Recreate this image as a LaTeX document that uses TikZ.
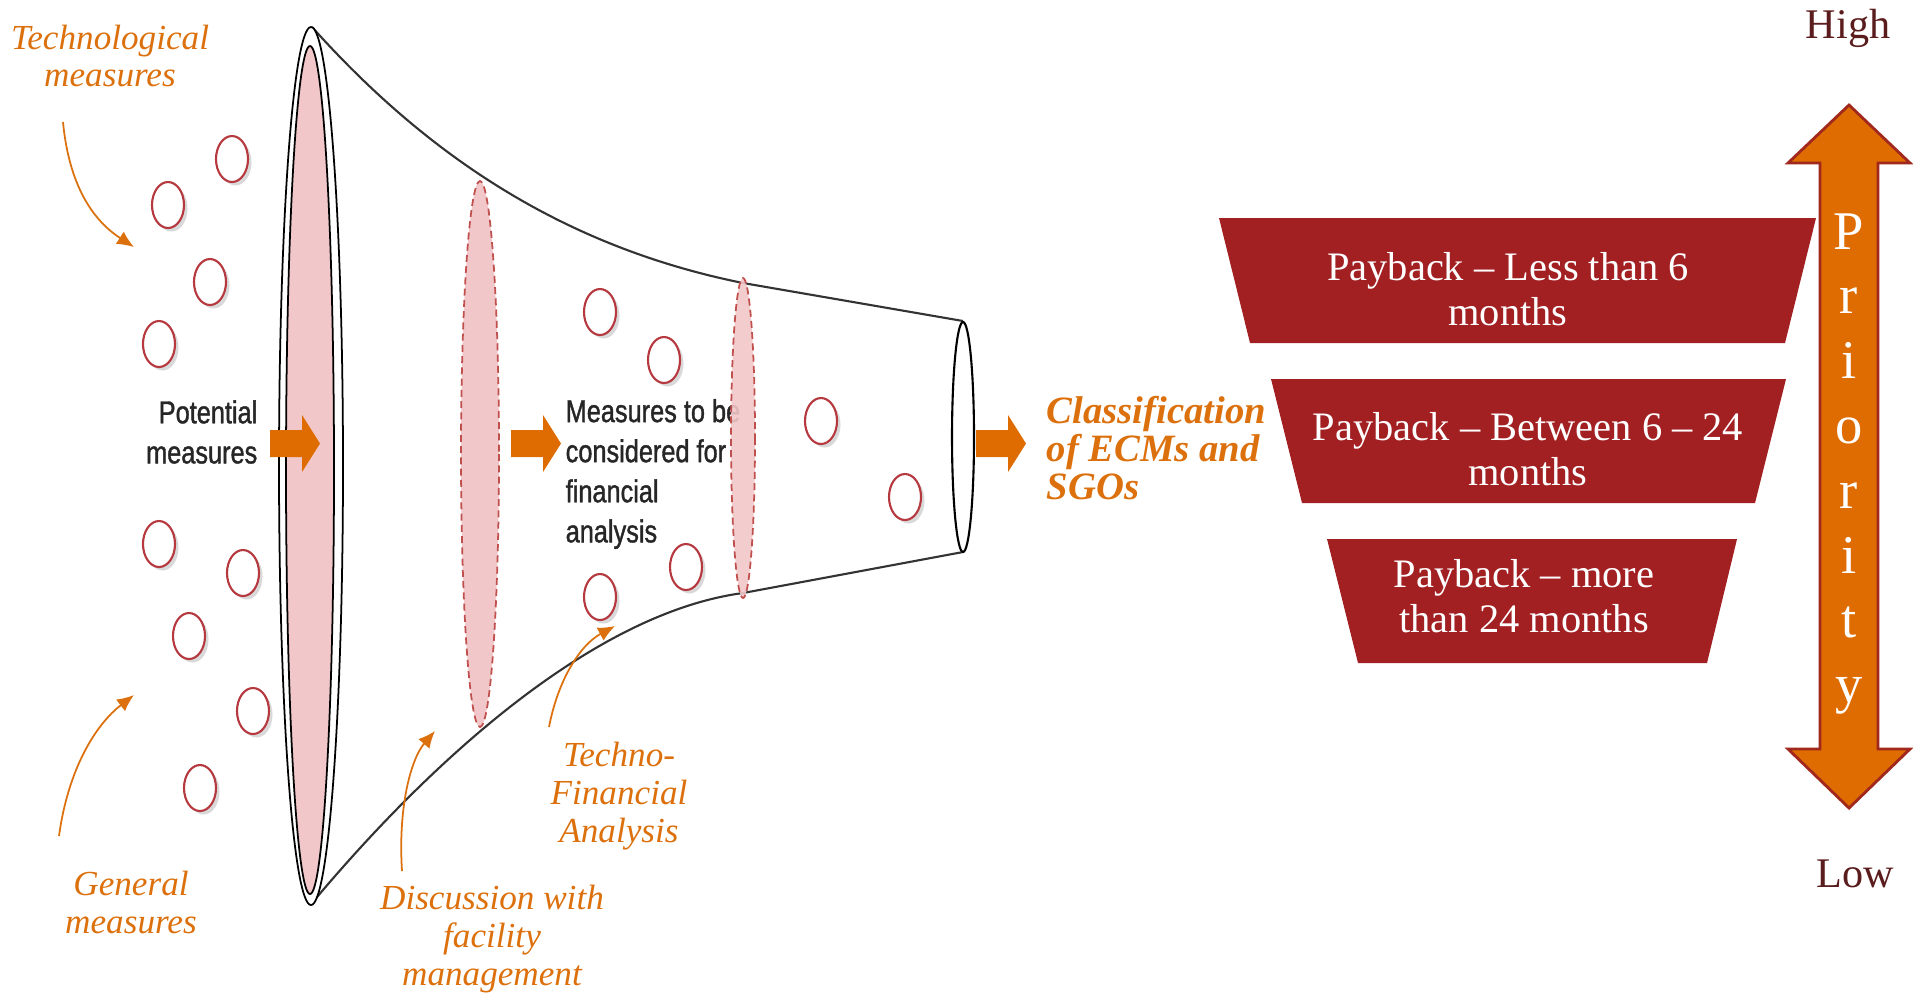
\documentclass[tikz,border=0pt]{standalone}
\usepackage{fontspec}
\setmainfont{Liberation Serif}
\newfontfamily\narrowsans[FakeStretch=0.8,FakeBold=1.2]{Liberation Sans}
\usetikzlibrary{arrows.meta,shadows}

\definecolor{lblorange}{HTML}{DC700C}
\definecolor{blockorange}{HTML}{DF6C00}
\definecolor{funnelpink}{HTML}{F2C7C9}
\definecolor{dashred}{HTML}{C0504D}
\definecolor{dotred}{HTML}{B5393F}
\definecolor{boxred}{HTML}{A21F22}
\definecolor{prioedge}{HTML}{A0281C}
\definecolor{lowhigh}{HTML}{5A1C1C}
\definecolor{darktext}{HTML}{262626}

\tikzset{
	orangelbl/.style={text=lblorange, inner sep=0pt, align=center,
		font=\fontsize{10}{10.8}\selectfont\itshape},
	graytext/.style={text=darktext, inner sep=0pt,
		font=\fontsize{9}{11.4}\selectfont\narrowsans},
	paytext/.style={text=white, inner sep=0pt, align=center,
		font=\fontsize{11.5}{12.8}\selectfont},
	priolbl/.style={text=white, inner sep=0pt, font=\fontsize{15.5}{15.5}\selectfont},
	prioend/.style={text=lowhigh, inner sep=0pt, font=\fontsize{12}{12}\selectfont},
	ecmdot/.style={draw=dotred, line width=0.6pt, fill=white,
		drop shadow={shadow xshift=1pt, shadow yshift=-1pt, opacity=0.3}},
	stagering/.style={draw=dashred, fill=funnelpink, line width=0.5pt,
		dash pattern=on 2pt off 1.2pt},
	pointer/.style={draw=lblorange, line width=0.5pt, -{Latex[length=4.8pt,width=4.2pt]}}
}

\begin{document}
\begin{tikzpicture}[x=0.01cm, y=-0.01cm]
	\useasboundingbox (0,0) rectangle (1913,993);

	% funnel
	\draw[line width=0.6pt, black!80] (312,27) .. controls (440,170) and (580,250) .. (743,283) -- (963,321);
	\draw[line width=0.6pt, black!80] (312,903) .. controls (440,750) and (600,612) .. (743,593) -- (963,552);

	\draw[fill=white, line width=0.5pt] (311,466) ellipse [x radius=32, y radius=439];
	\draw[fill=funnelpink, line width=0.5pt] (310,470) ellipse [x radius=24, y radius=424];

	\draw[stagering] (480,454) ellipse [x radius=19, y radius=273];
	\draw[line width=0.6pt] (963,437) ellipse [x radius=11, y radius=115];

	\foreach \x / \y in {
	232/159, 168/205, 210/282, 159/344,
	159/544, 243/573, 189/636, 253/711, 200/788,
	600/312, 664/360, 821/421, 905/497, 686/567, 600/597}
	{
		\draw[ecmdot] (\x,\y) ellipse [x radius=16, y radius=23];
	};

	\node[graytext, align=right, anchor=east] (potential) at (258,432) {Potential\\measures};
	\node[graytext, align=left, anchor=west] (tobe) at (565,474) {Measures to be\\considered for\\financial\\analysis};

	\draw[stagering, fill opacity=0.9] (743,438) ellipse [x radius=12, y radius=160];

	\foreach \x in {270, 511, 976}
	{
		\fill[blockorange] (\x,430) -- (\x+32,430) -- (\x+32,415) -- (\x+50,443.5)
			-- (\x+32,472) -- (\x+32,457) -- (\x,457) -- cycle;
	};

	% labels round the funnel
	\node[orangelbl] (techlbl) at (110,56) {Technological\\measures};
	\node[orangelbl] (genlbl) at (131,902) {General\\measures};
	\node[orangelbl] (disclbl) at (492,939) {Discussion with\\facility\\management};
	\node[orangelbl] (finlbl) at (619,796) {Techno-\\Financial\\Analysis};
	\node[orangelbl, align=left, anchor=west, font=\fontsize{11}{10.8}\selectfont\bfseries\itshape]
		(classlbl) at (1046,448) {Classification\\of ECMs and\\SGOs};

	\coordinate (techfrom) at (63,122);
	\coordinate (techto) at (134,247);
	\coordinate (genfrom) at (59,836);
	\coordinate (gento) at (134,695);
	\coordinate (discfrom) at (402,871);
	\coordinate (discto) at (435,731);
	\coordinate (finfrom) at (549,727);
	\coordinate (finto) at (615,626);

	\draw[pointer] (techfrom) .. controls (70,195) and (100,225) .. (techto);
	\draw[pointer] (genfrom) .. controls (68,770) and (95,725) .. (gento);
	\draw[pointer] (discfrom) .. controls (398,810) and (410,760) .. (discto);
	\draw[pointer] (finfrom) .. controls (558,680) and (580,645) .. (finto);

	% payback classes
	\fill[boxred] (1219,218) -- (1816,218) -- (1785,343) -- (1250,343) -- cycle;
	\fill[boxred] (1271,379) -- (1786,379) -- (1755,503) -- (1302,503) -- cycle;
	\fill[boxred] (1327,539) -- (1737,539) -- (1707,663) -- (1358,663) -- cycle;

	\node[paytext] (pay1) at (1508,289) {Payback -- Less than 6\\months};
	\node[paytext] (pay2) at (1528,449) {Payback -- Between 6 -- 24\\months};
	\node[paytext] (pay3) at (1524,596) {Payback -- more\\than 24 months};

	% priority
	\draw[fill=blockorange, draw=prioedge, line width=0.8pt]
		(1849,105) -- (1910,163) -- (1878,163) -- (1878,749) -- (1910,749) -- (1849,808)
		-- (1788,749) -- (1820,749) -- (1820,163) -- (1788,163) -- cycle;

	\foreach \ch [count=\i from 0] in {P,r,i,o,r,i,t,y}
	{
		\node[priolbl, anchor=base] (prio\i) at (1849,249+64.8*\i) {\ch};
	};

	\node[prioend, anchor=base] (high) at (1848,38) {High};
	\node[prioend, anchor=base] (low) at (1855,887) {Low};
\end{tikzpicture}
\end{document}
